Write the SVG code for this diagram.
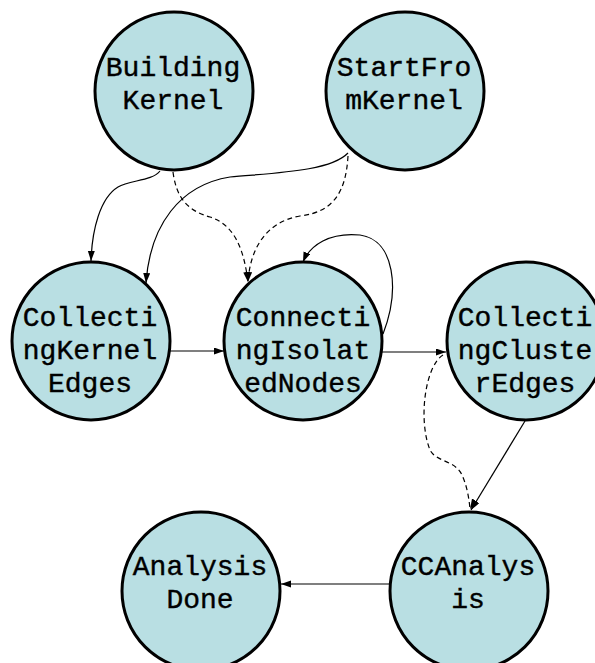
<svg xmlns="http://www.w3.org/2000/svg" width="595" height="663" viewBox="0 0 595 663">
<style>
.node circle{fill:#b9dfe3;stroke:#000;stroke-width:3}
.node text{font-family:"Liberation Mono","Courier New",monospace;font-weight:normal;font-size:28px;text-anchor:middle;fill:#000;stroke:#000;stroke-width:0.4}
.edge{fill:none;stroke:#000;stroke-width:1.2}
.dash{stroke-dasharray:5,3.5}
</style>
<defs>
<marker id="arr" markerUnits="userSpaceOnUse" markerWidth="11" markerHeight="8" refX="10" refY="3.5" orient="auto">
<path d="M0,0 L10,3.5 L0,7 z" fill="#000"/>
</marker>
<marker id="arrB" markerUnits="userSpaceOnUse" markerWidth="11" markerHeight="8" refX="10" refY="3.5" orient="120.5">
<path d="M0,0 L10,3.5 L0,7 z" fill="#000"/>
</marker>
</defs>
<rect width="595" height="663" fill="#fff"/>
<g id="connectors">
<path class="edge" d="M160,171 C152,181 130,180 118,187 C100,198 92,230 91,261" marker-end="url(#arr)"/>
<path class="edge dash" d="M173,172 C176,195 185,210 210,217 C235,225 244,250 248,282" marker-end="url(#arr)"/>
<path class="edge" d="M348,153 C330,172 270,173 230,177 C180,185 150,225 146,283" marker-end="url(#arr)"/>
<path class="edge dash" d="M348,156 C346,190 335,212 300,216 C265,222 250,250 248,282" marker-end="url(#arr)"/>
<path class="edge" d="M170,351 L224,351" marker-end="url(#arr)"/>
<path class="edge" d="M383,334 C400,290 395,240 360,235 C330,232 310,245 303,262" marker-end="url(#arr)"/>
<path class="edge" d="M382,352 L446,352" marker-end="url(#arr)"/>
<path class="edge" d="M525,421 L471,510" marker-end="url(#arr)"/>
<path class="edge dash" d="M443,355 C425,366 418,420 430,450 C436,462 455,460 462,475 C467,486 469,498 470,509" marker-end="url(#arrB)"/>
<path class="edge" d="M390,584 L281,584" marker-end="url(#arr)"/>
</g>
<g id="BuildingKernel" class="node">
<circle cx="174" cy="91" r="79"/>
<text x="173" y="76">Building</text>
<text x="173" y="109">Kernel</text>
</g>
<g id="StartFromKernel" class="node">
<circle cx="405" cy="91" r="79"/>
<text x="404" y="76">StartFro</text>
<text x="404" y="109">mKernel</text>
</g>
<g id="CollectingKernelEdges" class="node">
<circle cx="91" cy="341" r="79"/>
<text x="90" y="326">Collecti</text>
<text x="90" y="359">ngKernel</text>
<text x="90" y="392">Edges</text>
</g>
<g id="ConnectingIsolatedNodes" class="node">
<circle cx="303" cy="341" r="79"/>
<text x="303" y="326">Connecti</text>
<text x="303" y="359">ngIsolat</text>
<text x="303" y="392">edNodes</text>
</g>
<g id="CollectingClusterEdges" class="node">
<circle cx="526" cy="341" r="79"/>
<text x="525" y="326">Collecti</text>
<text x="525" y="359">ngCluste</text>
<text x="525" y="392">rEdges</text>
</g>
<g id="AnalysisDone" class="node">
<circle cx="201" cy="591" r="79"/>
<text x="200" y="575">Analysis</text>
<text x="200" y="608">Done</text>
</g>
<g id="CCAnalysis" class="node">
<circle cx="469" cy="591" r="79"/>
<text x="468" y="575">CCAnalys</text>
<text x="468" y="608">is</text>
</g>
</svg>
